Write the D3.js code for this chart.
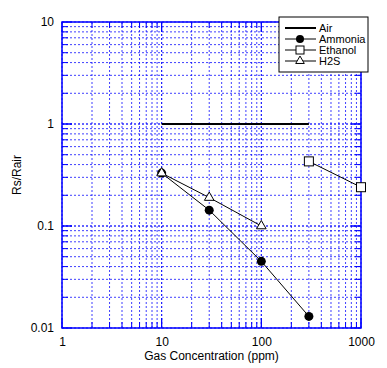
<!DOCTYPE html>
<html><head><meta charset="utf-8">
<script src="https://cdn.jsdelivr.net/npm/d3@7"></script>
<style>body{margin:0;background:#fff}svg{display:block}text{font-family:"Liberation Sans",Arial,sans-serif}</style>
</head><body><div id="chart"></div>
<script>
const xTickValues = [1, 10, 100, 1000];
const yTickValues = [0.01, 0.1, 1, 10];
const xTickLabels = ["1", "10", "100", "1000"];
const yTickLabels = ["0.01", "0.1", "1", "10"];
const airX = [10, 300];
const airY = [1, 1];
const ammoniaX = [10, 30, 100, 300];
const ammoniaY = [0.33, 0.143, 0.045, 0.013];
const ethanolX = [300, 1000];
const ethanolY = [0.43, 0.24];
const h2sX = [10, 30, 100];
const h2sY = [0.33, 0.19, 0.1];
const seriesNames = ["Air", "Ammonia", "Ethanol", "H2S"];
const xTitle = "Gas Concentration (ppm)";
const yTitle = "Rs/Rair";

const W = 387, H = 368;
const m = {l: 62, r: 26, t: 22, b: 40};
const svg = d3.select("#chart").append("svg").attr("width", W).attr("height", H);
const x = d3.scaleLog().domain([1, 1000]).range([m.l, W - m.r]);
const y = d3.scaleLog().domain([0.01, 10]).range([H - m.b, m.t]);

const minorX = [], minorY = [];
for (let d = 1; d < 1000; d *= 10) for (let k = 1; k <= 10; k++) minorX.push(d * k);
for (let d = 0.01; d < 10; d *= 10) for (let k = 1; k <= 10; k++) minorY.push(d * k);

const blue = "#0000ff";
const g = svg.append("g");
// grid
g.selectAll(".gx").data(minorX).enter().append("line")
  .attr("x1", d => x(d)).attr("x2", d => x(d)).attr("y1", m.t).attr("y2", H - m.b)
  .attr("stroke", blue).attr("stroke-width", 1).attr("stroke-dasharray", "2,2").attr("opacity", 0.75);
g.selectAll(".gy").data(minorY).enter().append("line")
  .attr("y1", d => y(d)).attr("y2", d => y(d)).attr("x1", m.l).attr("x2", W - m.r)
  .attr("stroke", blue).attr("stroke-width", 1).attr("stroke-dasharray", "2,2").attr("opacity", 0.75);

// axes
const axL = d3.axisLeft(y).tickValues(yTickValues).tickFormat((d, i) => yTickLabels[i]).tickSize(0).tickPadding(8);
const axB = d3.axisBottom(x).tickValues(xTickValues).tickFormat((d, i) => xTickLabels[i]).tickSize(0).tickPadding(9);
const gl = svg.append("g").attr("transform", `translate(${m.l},0)`).call(axL);
const gb = svg.append("g").attr("transform", `translate(0,${H - m.b})`).call(axB);
[gl, gb].forEach(a => { a.select(".domain").remove(); a.selectAll("text").attr("font-size", 12).attr("fill", "#000"); });

// inward tick marks on all four sides
const tick = svg.append("g").attr("stroke", blue).attr("stroke-width", 1);
minorY.forEach(v => {
  const len = yTickValues.includes(+v.toPrecision(3)) ? 10 : 6;
  tick.append("line").attr("x1", m.l).attr("x2", m.l + len).attr("y1", y(v)).attr("y2", y(v));
  tick.append("line").attr("x1", W - m.r).attr("x2", W - m.r - len).attr("y1", y(v)).attr("y2", y(v));
});
minorX.forEach(v => {
  const len = xTickValues.includes(+v.toPrecision(3)) ? 10 : 6;
  tick.append("line").attr("y1", H - m.b).attr("y2", H - m.b - len).attr("x1", x(v)).attr("x2", x(v));
  tick.append("line").attr("y1", m.t).attr("y2", m.t + len).attr("x1", x(v)).attr("x2", x(v));
});
svg.append("rect").attr("x", m.l).attr("y", m.t).attr("width", W - m.r - m.l).attr("height", H - m.b - m.t)
  .attr("fill", "none").attr("stroke", blue).attr("stroke-width", 1.5);

// data
const line = d3.line().x(d => x(d[0])).y(d => y(d[1]));
const zip = (a, b) => a.map((v, i) => [v, b[i]]);
const air = zip(airX, airY), amm = zip(ammoniaX, ammoniaY), eth = zip(ethanolX, ethanolY), h2s = zip(h2sX, h2sY);
svg.append("path").attr("d", line(air)).attr("fill", "none").attr("stroke", "#000").attr("stroke-width", 2);
[h2s, amm, eth].forEach(s => svg.append("path").attr("d", line(s)).attr("fill", "none").attr("stroke", "#000").attr("stroke-width", 1));

svg.selectAll(".amm").data(amm).enter().append("circle")
  .attr("cx", d => x(d[0])).attr("cy", d => y(d[1])).attr("r", 4.5).attr("fill", "#000");
const tri = d3.symbol().type(d3.symbolTriangle).size(40);
svg.selectAll(".h2s").data(h2s).enter().append("path").attr("d", tri)
  .attr("transform", d => `translate(${x(d[0])},${y(d[1])})`).attr("fill", "#fff").attr("stroke", "#000").attr("stroke-width", 1);
svg.selectAll(".eth").data(eth).enter().append("rect")
  .attr("x", d => x(d[0]) - 4.5).attr("y", d => y(d[1]) - 4.5).attr("width", 9).attr("height", 9)
  .attr("fill", "#fff").attr("stroke", "#000").attr("stroke-width", 1);

// axis titles
svg.append("text").attr("x", (m.l + W - m.r) / 2).attr("y", 360).attr("text-anchor", "middle").attr("font-size", 12).text(xTitle);
svg.append("text").attr("transform", `translate(21,${(m.t + H - m.b) / 2}) rotate(-90)`).attr("text-anchor", "middle").attr("font-size", 12).text(yTitle);

// legend
const lg = svg.append("g").attr("transform", "translate(279,17)");
lg.append("rect").attr("width", 89).attr("height", 55).attr("fill", "#fff").attr("stroke", "#000").attr("stroke-width", 1);
seriesNames.forEach((n, i) => {
  const yy = 11 + i * 11;
  lg.append("line").attr("x1", 6).attr("x2", 37).attr("y1", yy).attr("y2", yy).attr("stroke", "#000").attr("stroke-width", i === 0 ? 2 : 1);
  if (i === 1) lg.append("circle").attr("cx", 21).attr("cy", yy).attr("r", 4).attr("fill", "#000");
  if (i === 2) lg.append("rect").attr("x", 17).attr("y", yy - 4).attr("width", 8).attr("height", 8).attr("fill", "#fff").attr("stroke", "#000");
  if (i === 3) lg.append("path").attr("d", d3.symbol().type(d3.symbolTriangle).size(32)).attr("transform", `translate(21,${yy})`).attr("fill", "#fff").attr("stroke", "#000");
  lg.append("text").attr("x", 40).attr("y", yy + 4).attr("font-size", 11).text(n);
});
</script></body></html>
